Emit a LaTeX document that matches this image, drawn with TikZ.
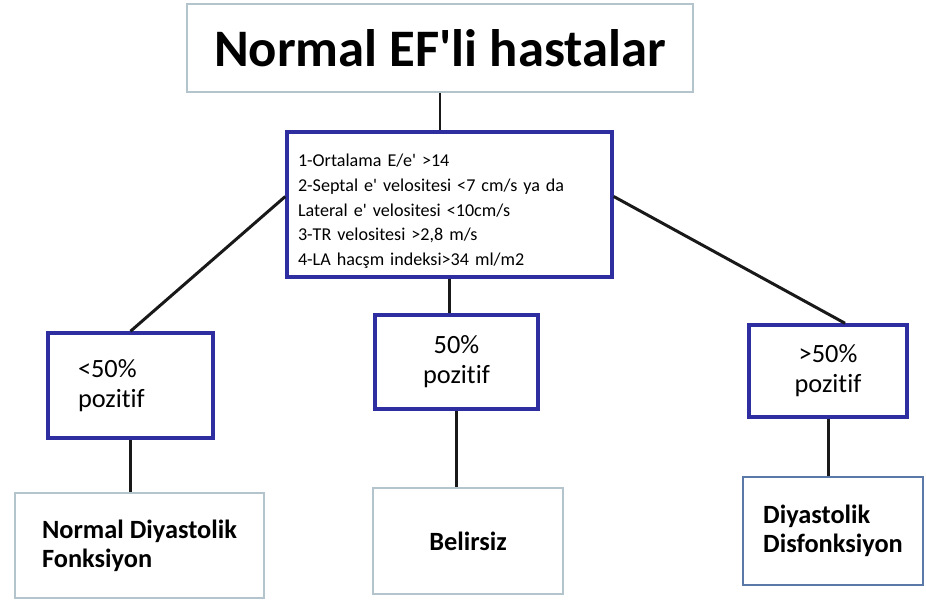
\documentclass[tikz,border=0pt]{standalone}
\usepackage{fontspec}
\setmainfont{Carlito}[Ligatures=NoCommon]
\usetikzlibrary{calc}
\definecolor{boxgrey}{HTML}{B4C4CC}
\definecolor{boxnavy}{HTML}{2E2EA0}
\definecolor{boxsteel}{HTML}{5A78A8}
\tikzset{
  titlebox/.style={draw=boxgrey, line width=1.2pt, font=\fontsize{30}{36}\selectfont\bfseries},
  critbox/.style={draw=boxnavy, line width=2pt, align=left, font=\fontsize{10.3}{14}\selectfont},
  pctbox/.style={draw=boxnavy, line width=2pt, align=center, font=\fontsize{15}{17}\selectfont},
  resbox/.style={draw=boxgrey, line width=1.2pt, align=left, font=\fontsize{15}{16.5}\selectfont\bfseries},
  link/.style={line width=1.7pt, draw=black!90},
}

\begin{document}
\begin{tikzpicture}[x=0.02cm, y=-0.02cm]
\useasboundingbox (0,0) rectangle (926,601);
\node[titlebox, minimum width=10.12cm, minimum height=1.76cm] (title) at (440,48) {Normal EF\textquotesingle li hastalar};
\node[critbox, minimum width=6.5cm, minimum height=2.9cm, text width=6.06cm, inner xsep=0.22cm] (crit) at (449.5,204.5)
  {\rule{0pt}{15pt}1-Ortalama E/e\textquotesingle\ >14\\
   2-Septal e\textquotesingle\ velositesi <7 cm/s ya da\\
   Lateral e\textquotesingle\ velositesi <10cm/s\\
   3-TR velositesi >2,8 m/s\\
   4-LA hacşm indeksi>34 ml/m2};
\node[pctbox, minimum width=3.3cm, minimum height=2.1cm, text width=2.1cm, inner xsep=0.6cm, align=left] (pctL) at (130.5,385.5) {<50\%\\pozitif};
\node[pctbox, minimum width=3.26cm, minimum height=1.88cm] (pctM) at (456.5,362) {50\%\\pozitif};
\node[pctbox, minimum width=3.16cm, minimum height=1.84cm] (pctR) at (828,371) {>50\%\\pozitif};
\node[resbox, minimum width=4.98cm, minimum height=2.1cm] (resL) at (139.5,545.5) {Normal Diyastolik\\Fonksiyon};
\node[resbox, minimum width=3.8cm, minimum height=2.12cm] (resM) at (468,541) {Belirsiz};
\node[resbox, draw=boxsteel, minimum width=3.6cm, minimum height=2.16cm] (resR) at (833,531) {Diyastolik\\Disfonksiyon};

\draw[link] (title.south) -- (title.south |- crit.north);
\draw[link] ($(crit.west)+(0,-8)$) -- (pctL.north);
\draw[link] ($(crit.east)+(0,-8)$) -- ($(pctR.north)+(17,0)$);
\draw[link] (crit.south) -- (crit.south |- pctM.north);
\draw[link] (pctL.south) -- (pctL.south |- resL.north);
\draw[link] (pctM.south) -- (pctM.south |- resM.north);
\draw[link] (pctR.south) -- (pctR.south |- resR.north);
\end{tikzpicture}
\end{document}
